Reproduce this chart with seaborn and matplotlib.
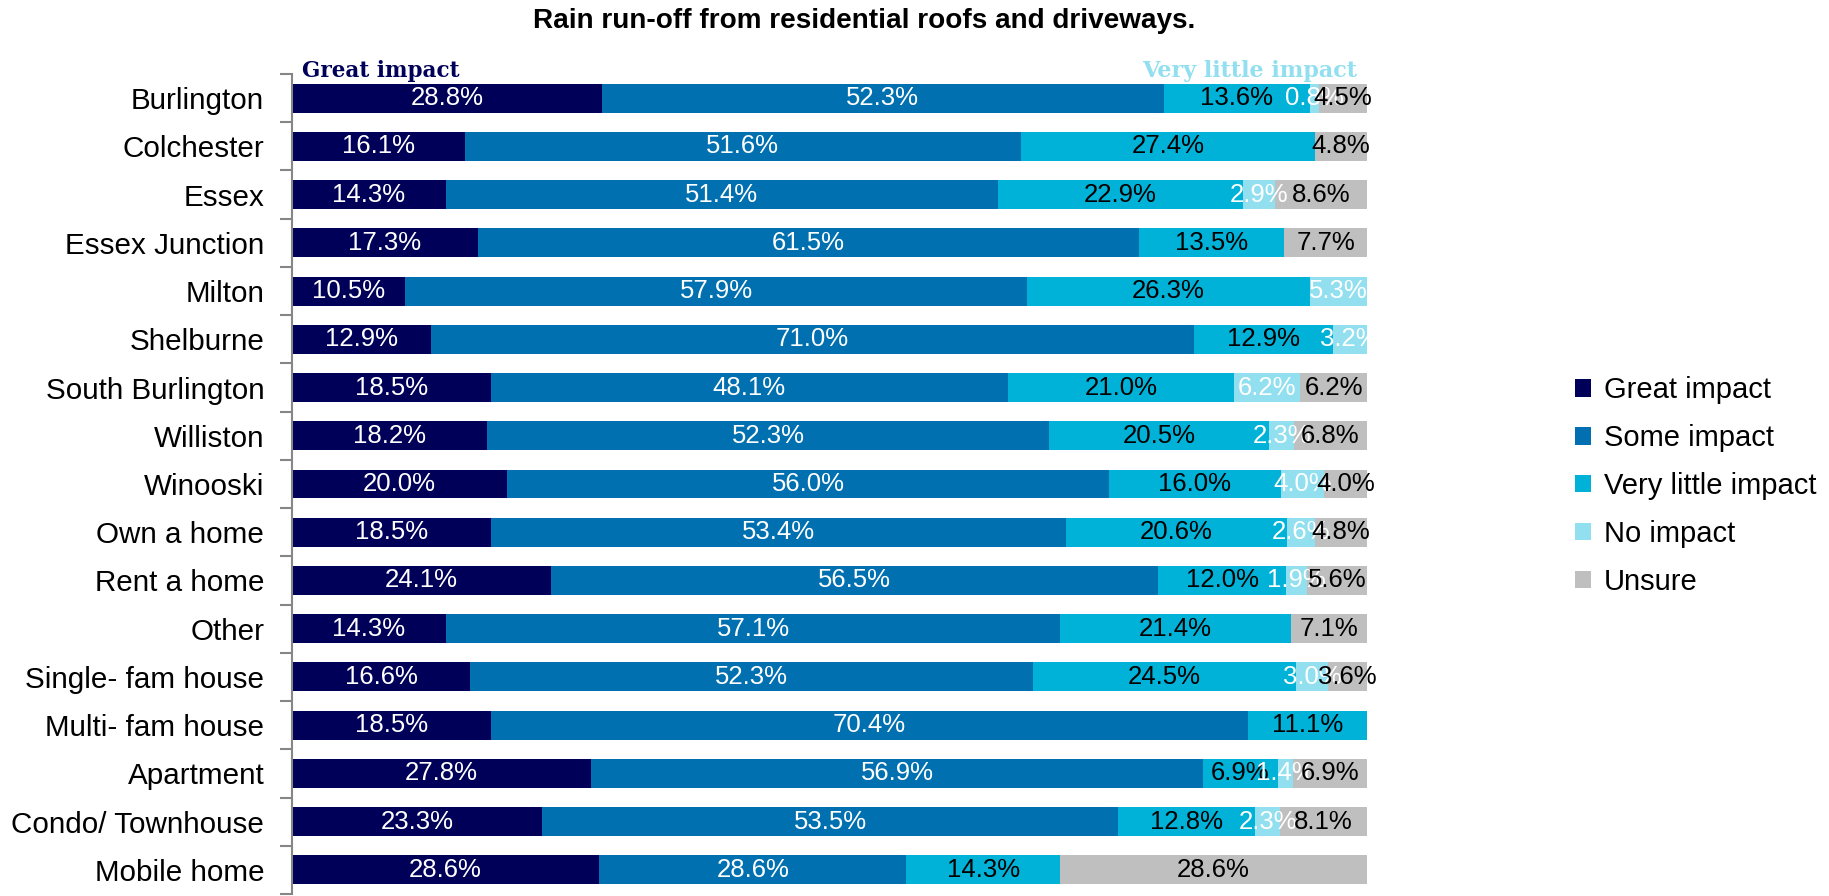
import matplotlib
matplotlib.use("Agg")
import matplotlib.pyplot as plt
import seaborn as sns
import pandas as pd
import numpy as np
from matplotlib.patches import Patch

categories = ["Burlington", "Colchester", "Essex", "Essex Junction", "Milton", "Shelburne",
              "South Burlington", "Williston", "Winooski", "Own a home", "Rent a home", "Other",
              "Single- fam house", "Multi- fam house", "Apartment", "Condo/ Townhouse", "Mobile home"]
series_names = ["Great impact", "Some impact", "Very little impact", "No impact", "Unsure"]
great_impact = [28.8, 16.1, 14.3, 17.3, 10.5, 12.9, 18.5, 18.2, 20.0, 18.5, 24.1, 14.3, 16.6, 18.5, 27.8, 23.3, 28.6]
some_impact = [52.3, 51.6, 51.4, 61.5, 57.9, 71.0, 48.1, 52.3, 56.0, 53.4, 56.5, 57.1, 52.3, 70.4, 56.9, 53.5, 28.6]
very_little_impact = [13.6, 27.4, 22.9, 13.5, 26.3, 12.9, 21.0, 20.5, 16.0, 20.6, 12.0, 21.4, 24.5, 11.1, 6.9, 12.8, 14.3]
no_impact = [0.8, 0.0, 2.9, 0.0, 5.3, 3.2, 6.2, 2.3, 4.0, 2.6, 1.9, 0.0, 3.0, 0.0, 1.4, 2.3, 0.0]
unsure = [4.5, 4.8, 8.6, 7.7, 0.0, 0.0, 6.2, 6.8, 4.0, 4.8, 5.6, 7.1, 3.6, 0.0, 6.9, 8.1, 28.6]

colors = ["#000059", "#0070B0", "#00B2D8", "#92DFEF", "#BFBFBF"]
label_colors = ["white", "white", "black", "white", "black"]

plt.rcParams["font.family"] = ["Liberation Sans", "DejaVu Sans"]

df = pd.DataFrame({"category": categories,
                   "Great impact": great_impact, "Some impact": some_impact,
                   "Very little impact": very_little_impact, "No impact": no_impact,
                   "Unsure": unsure})
vals = df[series_names].to_numpy()
cum = np.cumsum(vals, axis=1)
scale = 100.0 / cum[:, -1]

fig = plt.figure(figsize=(18.29, 8.96), dpi=100)
ax = fig.add_axes([292/1829, 1 - 894/896, (1367-292)/1829, (894-74)/896])

# draw cumulative bars from widest to narrowest so they stack visually
for j in range(len(series_names) - 1, -1, -1):
    tmp = pd.DataFrame({"category": categories, "end": cum[:, j] * scale})
    sns.barplot(data=tmp, x="end", y="category", orient="h", color=colors[j],
                saturation=1, width=0.6, ax=ax, errorbar=None)

for i in range(len(categories)):
    for j in range(len(series_names)):
        v = vals[i, j]
        if v <= 0:
            continue
        center = (cum[i, j] - v / 2) * scale[i]
        ax.text(center, i, f"{v:.1f}%", ha="center", va="center",
                fontsize=18.5, color=label_colors[j])

ax.set_xlim(0, 100)
ax.set_ylim(len(categories) - 0.5, -0.5)
ax.set_xlabel("")
ax.set_ylabel("")
ax.set_xticks([])
for s in ["top", "right", "bottom"]:
    ax.spines[s].set_visible(False)
ax.spines["left"].set_color("#868686")
ax.spines["left"].set_linewidth(1.5)
ax.set_yticks(range(len(categories)))
ax.set_yticklabels(categories, fontsize=21.3)
ax.set_yticks(np.arange(-0.5, len(categories) + 0.5, 1), minor=True)
ax.tick_params(axis="y", which="major", length=0, pad=20)
ax.tick_params(axis="y", which="minor", length=9, width=1.5, color="#868686", direction="out")

fig.text(864/1829, 1 - 21/896, "Rain run-off from residential roofs and driveways.",
         ha="center", va="center", fontsize=20.1, fontweight="bold")
fig.text(302/1829, 1 - 77/896, "Great impact", ha="left", va="baseline",
         fontsize=15.5, fontweight="bold", color="#000059", family="DejaVu Serif")
fig.text(1357/1829, 1 - 77/896, "Very little impact", ha="right", va="baseline",
         fontsize=16, fontweight="bold", color="#92DFEF", family="DejaVu Serif")

handles = [Patch(facecolor=c, edgecolor="none", label=n) for c, n in zip(colors, series_names)]
fig.legend(handles=handles, loc="center left", bbox_to_anchor=(1575/1829, 1 - 486/896),
           frameon=False, fontsize=21, handlelength=0.55, handleheight=0.55,
           handletextpad=0.45, labelspacing=0.68, borderpad=0, borderaxespad=0)

fig.savefig("out.png", dpi=100)
